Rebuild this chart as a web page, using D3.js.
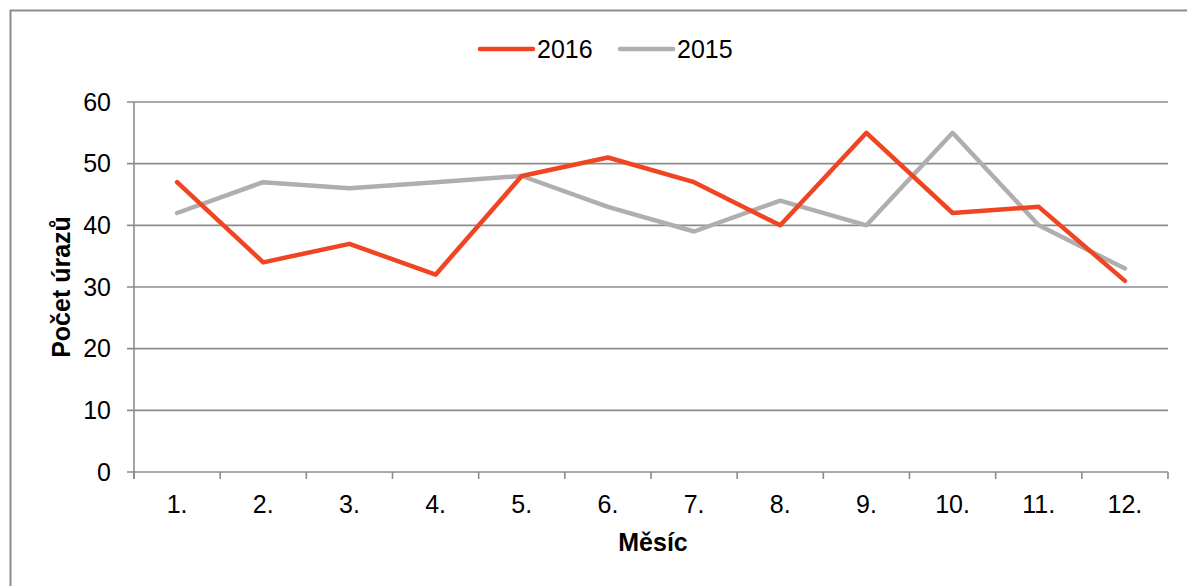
<!DOCTYPE html>
<html><head><meta charset="utf-8">
<script src="https://cdn.jsdelivr.net/npm/d3@7"></script>
<style>body{margin:0;background:#fff}svg{display:block;font-family:"Liberation Sans",Arial,sans-serif}</style>
</head><body>
<svg id="c" width="1187" height="586"></svg>
<script>
const categories = ["1.","2.","3.","4.","5.","6.","7.","8.","9.","10.","11.","12."];
const values2016 = [47,34,37,32,48,51,47,40,55,42,43,31];
const values2015 = [42,47,46,47,48,43,39,44,40,55,40,33];
const yTicks = [0,10,20,30,40,50,60];
const seriesNames = ["2016","2015"];
const colors = ["#F04523","#AFAFAF"];

const svg = d3.select("#c");
const L=134, R=1168, T=102, B=472;
svg.append("rect").attr("x",10.5).attr("y",10.5).attr("width",1200).attr("height",600)
  .attr("fill","none").attr("stroke","#8c8c8c").attr("stroke-width",2);

const x = d3.scaleBand().domain(categories).range([L,R]);
const y = d3.scaleLinear().domain([0,60]).range([B,T]);

svg.append("g").selectAll("line").data(yTicks).join("line")
  .attr("x1",L-7).attr("x2",R).attr("y1",d=>y(d)).attr("y2",d=>y(d))
  .attr("stroke","#8c8c8c").attr("stroke-width",1.6);
svg.append("line").attr("x1",L).attr("x2",L).attr("y1",T).attr("y2",B+7).attr("stroke","#8c8c8c").attr("stroke-width",1.6);
const bounds = categories.map(c=>x(c)).concat([R]);
svg.append("g").selectAll("line").data(bounds).join("line")
  .attr("x1",d=>d).attr("x2",d=>d).attr("y1",B).attr("y2",B+7)
  .attr("stroke","#8c8c8c").attr("stroke-width",1.6);
svg.append("g").selectAll("text").data(yTicks).join("text")
  .attr("x",L-23).attr("y",d=>y(d)+8.5).attr("text-anchor","end")
  .attr("font-size",25).attr("fill","#000").text(d=>d);
svg.append("g").selectAll("text").data(categories).join("text")
  .attr("x",d=>x(d)+x.bandwidth()/2).attr("y",513).attr("text-anchor","middle")
  .attr("font-size",25).attr("fill","#000").text(d=>d);
svg.append("text").attr("x",653).attr("y",551).attr("text-anchor","middle")
  .attr("font-size",25).attr("font-weight","bold").text("Měsíc");
svg.append("text").attr("transform",`translate(70,287) rotate(-90)`).attr("text-anchor","middle")
  .attr("font-size",25).attr("font-weight","bold").text("Počet úrazů");

const line = d3.line().x((d,i)=>x(categories[i])+x.bandwidth()/2).y(d=>y(d));
[values2015, values2016].forEach((vals,k)=>{
  const ci = k===0?1:0;
  svg.append("path").datum(vals).attr("d",line).attr("fill","none")
    .attr("stroke",colors[ci]).attr("stroke-width",4.5)
    .attr("stroke-linejoin","round").attr("stroke-linecap","round");
});

const lg = [{name:seriesNames[0],c:colors[0],x:480},{name:seriesNames[1],c:colors[1],x:620}];
lg.forEach(d=>{
  svg.append("line").attr("x1",d.x).attr("x2",d.x+53).attr("y1",49).attr("y2",49)
    .attr("stroke",d.c).attr("stroke-width",4.5).attr("stroke-linecap","round");
  svg.append("text").attr("x",d.x+57).attr("y",58).attr("font-size",25).text(d.name);
});
</script>
</body></html>
